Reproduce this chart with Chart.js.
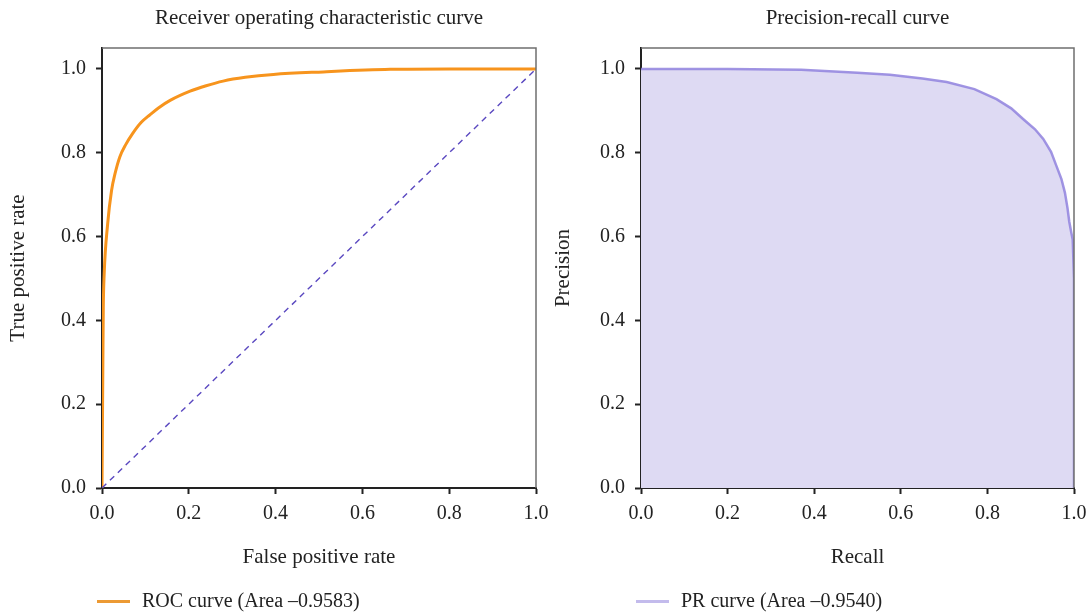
<!DOCTYPE html>
<html>
<head>
<meta charset="utf-8">
<title>ROC and PR curves</title>
<script src="https://cdn.jsdelivr.net/npm/chart.js@4.4.1/dist/chart.umd.min.js"></script>
<style>
  body { margin: 0; background: #fff; }
  .wrap { position: relative; width: 1090px; height: 614px; overflow: hidden; }
  canvas { position: absolute; top: 0; }
  #rocChart { left: 0; }
  #prChart { left: 545px; }
  .legend { position: absolute; top: 588px; height: 24px; font: 20px 'Liberation Serif', serif; color: #222; line-height: 24px; }
  .legend .swatch { position: absolute; left: 0; top: 12px; width: 33px; height: 3px; }
  .legend .text { position: absolute; white-space: nowrap; }
</style>
</head>
<body>
<div class="wrap">
  <canvas id="rocChart" width="555" height="614"></canvas>
  <canvas id="prChart" width="545" height="614"></canvas>
  <div class="legend" id="rocLegend" style="left:97px"></div>
  <div class="legend" id="prLegend" style="left:636px"></div>
</div>
<script>
// shared tick positions for both axes of both plots
const axisTicks = [0, 0.2, 0.4, 0.6, 0.8, 1.0];

// ROC curve: false positive rate / true positive rate
const rocFpr = [0, 0.002, 0.003, 0.005, 0.013, 0.022, 0.03, 0.041, 0.055, 0.07, 0.09, 0.111, 0.13, 0.157, 0.203, 0.24, 0.279, 0.33, 0.395, 0.51, 0.664, 0.8, 1.0];
const rocTpr = [0, 0.30, 0.43, 0.51, 0.63, 0.71, 0.75, 0.79, 0.82, 0.845, 0.872, 0.891, 0.907, 0.925, 0.947, 0.96, 0.971, 0.98, 0.987, 0.993, 0.999, 1.0, 1.0];

// chance diagonal
const chanceX = [0, 1];
const chanceY = [0, 1];

// precision-recall curve
const prRecall = [0, 0.2, 0.37, 0.5, 0.575, 0.65, 0.706, 0.77, 0.821, 0.855, 0.883, 0.91, 0.929, 0.947, 0.96, 0.971, 0.979, 0.985, 0.989, 0.994, 0.997, 1.0, 1.0];
const prPrecision = [1.0, 1.0, 0.998, 0.991, 0.986, 0.977, 0.969, 0.952, 0.928, 0.906, 0.880, 0.856, 0.833, 0.802, 0.767, 0.737, 0.705, 0.668, 0.636, 0.608, 0.593, 0.5, 0];

const rocLabel = 'ROC curve (Area \u20130.9583)';
const prLabel = 'PR curve (Area \u20130.9540)';

const FONT = "'Liberation Serif', 'DejaVu Serif', serif";
const INK = '#222';

const toPoints = (xs, ys) => xs.map((x, i) => ({ x, y: ys[i] }));

const zeroPad = s => { s.paddingLeft = 0; s.paddingRight = 0; s.paddingTop = 0; s.paddingBottom = 0; };

function makeAxis(titleText, isX, size) {
  return {
    type: 'linear',
    min: 0,
    max: isX ? 1 : 1.05,
    z: 1,
    grid: { drawOnChartArea: false, drawTicks: true, tickLength: 6, tickWidth: 2, tickColor: INK },
    border: { display: true, color: INK, width: 2 },
    afterBuildTicks: s => { s.ticks = axisTicks.map(v => ({ value: v })); },
    ticks: { color: INK, font: { family: FONT, size: 20 }, padding: isX ? 8 : 10, callback: v => Number(v).toFixed(1) },
    title: {
      display: true, text: titleText, color: INK,
      font: { family: FONT, size: 21 },
      padding: isX ? { top: 0, bottom: 0 } : { top: 5.4, bottom: 0 }
    },
    afterFit: s => {
      if (isX) s.height = size; else s.width = size;
      zeroPad(s);
    }
  };
}

// light frame on the top and right sides of the plot area
const frame = {
  id: 'frame',
  afterDatasetsDraw(chart) {
    const { ctx, chartArea: a } = chart;
    ctx.save();
    ctx.strokeStyle = '#6f6f6f';
    ctx.lineWidth = 1.5;
    ctx.beginPath();
    ctx.moveTo(a.left, a.top);
    ctx.lineTo(a.right, a.top);
    ctx.lineTo(a.right, a.bottom);
    ctx.stroke();
    ctx.restore();
  }
};

function makeOptions(titleText, xTitle, yTitle, yWidth, padRight) {
  return {
    responsive: false,
    animation: false,
    layout: { padding: { left: 0, top: 0, right: padRight, bottom: 44 } },
    elements: { point: { radius: 0 }, line: { tension: 0 } },
    plugins: {
      legend: { display: false },
      tooltip: { enabled: false },
      title: {
        display: true, text: titleText, fullSize: false, color: INK,
        font: { family: FONT, size: 21, weight: 'normal' },
        padding: { top: 5.4, bottom: 17.4 }
      }
    },
    scales: {
      x: makeAxis(xTitle, true, 82),
      y: makeAxis(yTitle, false, yWidth)
    }
  };
}

function buildLegend(el, dataset, color) {
  const swatch = document.createElement('div');
  swatch.className = 'swatch';
  swatch.style.background = color;
  const text = document.createElement('span');
  text.className = 'text';
  text.style.left = '45px';
  text.textContent = dataset.label;
  el.appendChild(swatch);
  el.appendChild(text);
}

const rocChart = new Chart(document.getElementById('rocChart'), {
  type: 'line',
  data: {
    datasets: [
      {
        label: 'chance',
        data: toPoints(chanceX, chanceY),
        borderColor: '#5a48c0',
        borderWidth: 1.4,
        borderDash: [6, 5],
        fill: false
      },
      {
        label: rocLabel,
        data: toPoints(rocFpr, rocTpr),
        borderColor: '#f7941d',
        borderWidth: 3,
        cubicInterpolationMode: 'monotone',
        fill: false
      }
    ]
  },
  options: makeOptions('Receiver operating characteristic curve', 'False positive rate', 'True positive rate', 102, 19),
  plugins: [frame]
});

const prChart = new Chart(document.getElementById('prChart'), {
  type: 'line',
  data: {
    datasets: [
      {
        label: prLabel,
        data: toPoints(prRecall, prPrecision),
        borderColor: 'rgba(145, 130, 222, 0.85)',
        borderWidth: 2.5,
        backgroundColor: '#dedaf3',
        fill: 'origin'
      }
    ]
  },
  options: makeOptions('Precision-recall curve', 'Recall', 'Precision', 96, 16),
  plugins: [frame]
});

buildLegend(document.getElementById('rocLegend'), rocChart.data.datasets[1], '#ec9a34');
buildLegend(document.getElementById('prLegend'), prChart.data.datasets[0], '#c3bbec');
</script>
</body>
</html>
